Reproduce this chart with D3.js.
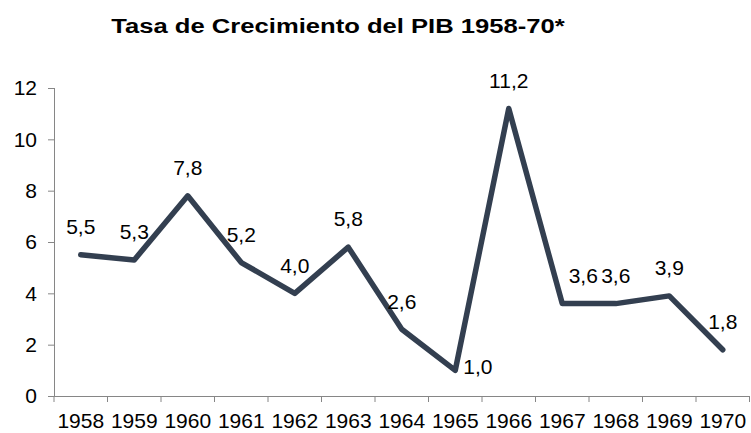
<!DOCTYPE html>
<html>
<head>
<meta charset="utf-8">
<script src="https://cdn.jsdelivr.net/npm/d3@7"></script>
<style>
  body { margin: 0; background: #fff; }
  text { font-family: "Liberation Sans", Arial, sans-serif; }
</style>
</head>
<body>
<div id="chart"></div>
<script>
// data
var years = ["1958", "1959", "1960", "1961", "1962", "1963", "1964", "1965", "1966", "1967", "1968", "1969", "1970"];
var growth = [5.5, 5.3, 7.8, 5.2, 4.0, 5.8, 2.6, 1.0, 11.2, 3.6, 3.6, 3.9, 1.8];
var yTicks = [0, 2, 4, 6, 8, 10, 12];

var width = 751, height = 433;
var plot = { left: 54, right: 749.5, top: 88, bottom: 396 };

var svg = d3.select("#chart")
  .append("svg")
  .attr("width", width)
  .attr("height", height);

// scales
var xScale = d3.scaleBand()
  .domain(years)
  .range([plot.left, plot.right])
  .padding(0);
var yScale = d3.scaleLinear()
  .domain([0, 12])
  .range([plot.bottom, plot.top]);

// title (glyphs stretched wider, like the original)
svg.append("text")
  .attr("transform", "translate(338,33) scale(1.22,1)")
  .attr("text-anchor", "middle")
  .style("font-size", "21px")
  .style("font-weight", "bold")
  .text("Tasa de Crecimiento del PIB 1958-70*");

// y axis
var yAxis = svg.append("g")
  .attr("transform", "translate(" + plot.left + ",0)")
  .call(d3.axisLeft(yScale).tickValues(yTicks).tickSize(6).tickPadding(11));
yAxis.selectAll("text").style("font-size", "21px").attr("fill", "#000");

// x axis: labels centred in bands, tick marks on band edges
var xAxis = svg.append("g")
  .attr("transform", "translate(0," + plot.bottom + ")")
  .call(d3.axisBottom(xScale).tickSize(0).tickPadding(17));
xAxis.selectAll("text").style("font-size", "21px").attr("fill", "#000");
xAxis.selectAll(".tick line").remove();
var edges = years.map(function(d) { return xScale(d); }).concat([plot.right]);
xAxis.selectAll(".edge")
  .data(edges)
  .enter()
  .append("line")
  .attr("class", "edge")
  .attr("x1", function(d) { return d; })
  .attr("x2", function(d) { return d; })
  .attr("y1", 0)
  .attr("y2", 6);

svg.selectAll(".domain, .tick line, .edge")
  .attr("stroke", "#868686")
  .attr("stroke-width", 1);
xAxis.select(".domain").attr("d", "M" + plot.left + ",0.5H" + plot.right);
yAxis.select(".domain").attr("d", "M0.5," + plot.bottom + "V" + plot.top);

// line
var line = d3.line()
  .x(function(d, i) { return xScale(years[i]) + xScale.bandwidth() / 2; })
  .y(function(d) { return yScale(d); });

svg.append("path")
  .datum(growth)
  .attr("d", line)
  .attr("fill", "none")
  .attr("stroke", "#333f50")
  .attr("stroke-width", 5.5)
  .attr("stroke-linejoin", "round")
  .attr("stroke-linecap", "round");

// data labels
svg.selectAll(".lbl")
  .data(growth)
  .enter()
  .append("text")
  .attr("class", "lbl")
  .attr("x", function(d, i) {
    var cx = xScale(years[i]) + xScale.bandwidth() / 2;
    if (i === 7) return cx + 8;
    if (i === 9) return cx + 21;
    return cx;
  })
  .attr("y", function(d, i) {
    return i === 7 ? yScale(d) - 4 : yScale(d) - 28;
  })
  .attr("dy", "0.35em")
  .attr("text-anchor", function(d, i) { return i === 7 ? "start" : "middle"; })
  .style("font-size", "21px")
  .attr("fill", "#000")
  .text(function(d) { return d.toFixed(1).replace(".", ","); });
</script>
</body>
</html>
